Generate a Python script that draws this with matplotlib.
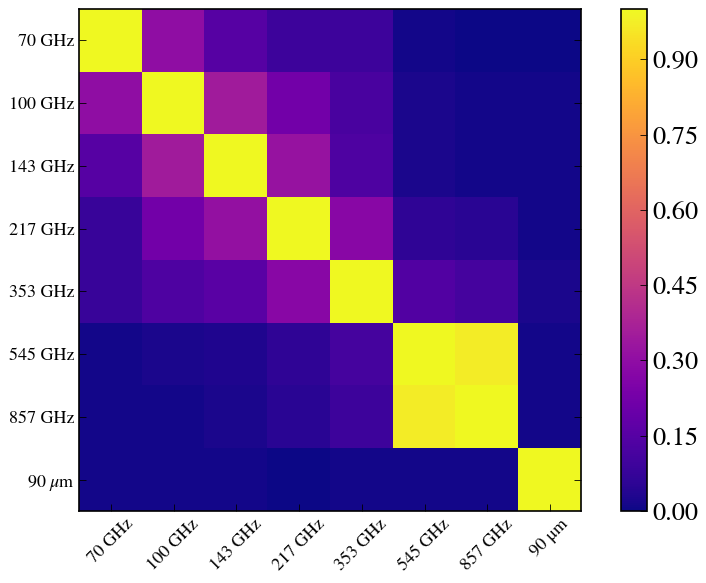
import numpy as np
import matplotlib
matplotlib.use('Agg')
import matplotlib.pyplot as plt

plt.rcParams['font.family'] = ['STIXGeneral', 'Liberation Serif', 'DejaVu Serif']
plt.rcParams['mathtext.fontset'] = 'stix'

# band labels
row_labels = ['70 GHz', '100 GHz', '143 GHz', '217 GHz', '353 GHz', '545 GHz', '857 GHz', r'90 $\mu$m']
col_labels = ['70 GHz', '100 GHz', '143 GHz', '217 GHz', '353 GHz', '545 GHz', '857 GHz', '90 \u03bcm']

# correlation values
row_70 = [1.00, 0.30, 0.15, 0.09, 0.09, 0.01, 0.00, 0.00]
row_100 = [0.30, 1.00, 0.35, 0.22, 0.12, 0.02, 0.01, 0.01]
row_143 = [0.15, 0.35, 1.00, 0.32, 0.13, 0.02, 0.01, 0.01]
row_217 = [0.08, 0.22, 0.31, 1.00, 0.28, 0.06, 0.05, 0.01]
row_353 = [0.08, 0.13, 0.16, 0.28, 1.00, 0.14, 0.11, 0.02]
row_545 = [0.01, 0.02, 0.03, 0.06, 0.11, 1.00, 0.97, 0.01]
row_857 = [0.01, 0.01, 0.02, 0.05, 0.09, 0.97, 1.00, 0.01]
row_90um = [0.01, 0.01, 0.01, 0.00, 0.01, 0.01, 0.01, 1.00]

corr = np.array([row_70, row_100, row_143, row_217, row_353, row_545, row_857, row_90um])

fig = plt.figure(figsize=(7.06, 5.83), dpi=100)
ax = fig.add_axes([0.112, 0.1235, 0.712, 0.861])
cax = fig.add_axes([0.880, 0.1235, 0.0368, 0.861])

im = ax.imshow(corr, cmap='plasma', vmin=0, vmax=1.0, interpolation='nearest')

ax.set_xticks(range(len(col_labels)))
ax.set_xticklabels(col_labels, rotation=45, fontsize=13)
ax.set_yticks(range(len(row_labels)))
ax.set_yticklabels(row_labels, fontsize=13)
ax.tick_params(axis='x', direction='in', length=5, width=0.6, top=False)
ax.tick_params(axis='y', direction='in', length=5, width=0.6, right=True)
for s in ax.spines.values():
    s.set_linewidth(1.2)

cb = fig.colorbar(im, cax=cax, ticks=np.arange(0, 0.91, 0.15), format='%.2f')
cb.ax.tick_params(labelsize=19, direction='in', length=5, width=0.6)
cb.outline.set_linewidth(1.2)

fig.savefig('out.png', dpi=100)
